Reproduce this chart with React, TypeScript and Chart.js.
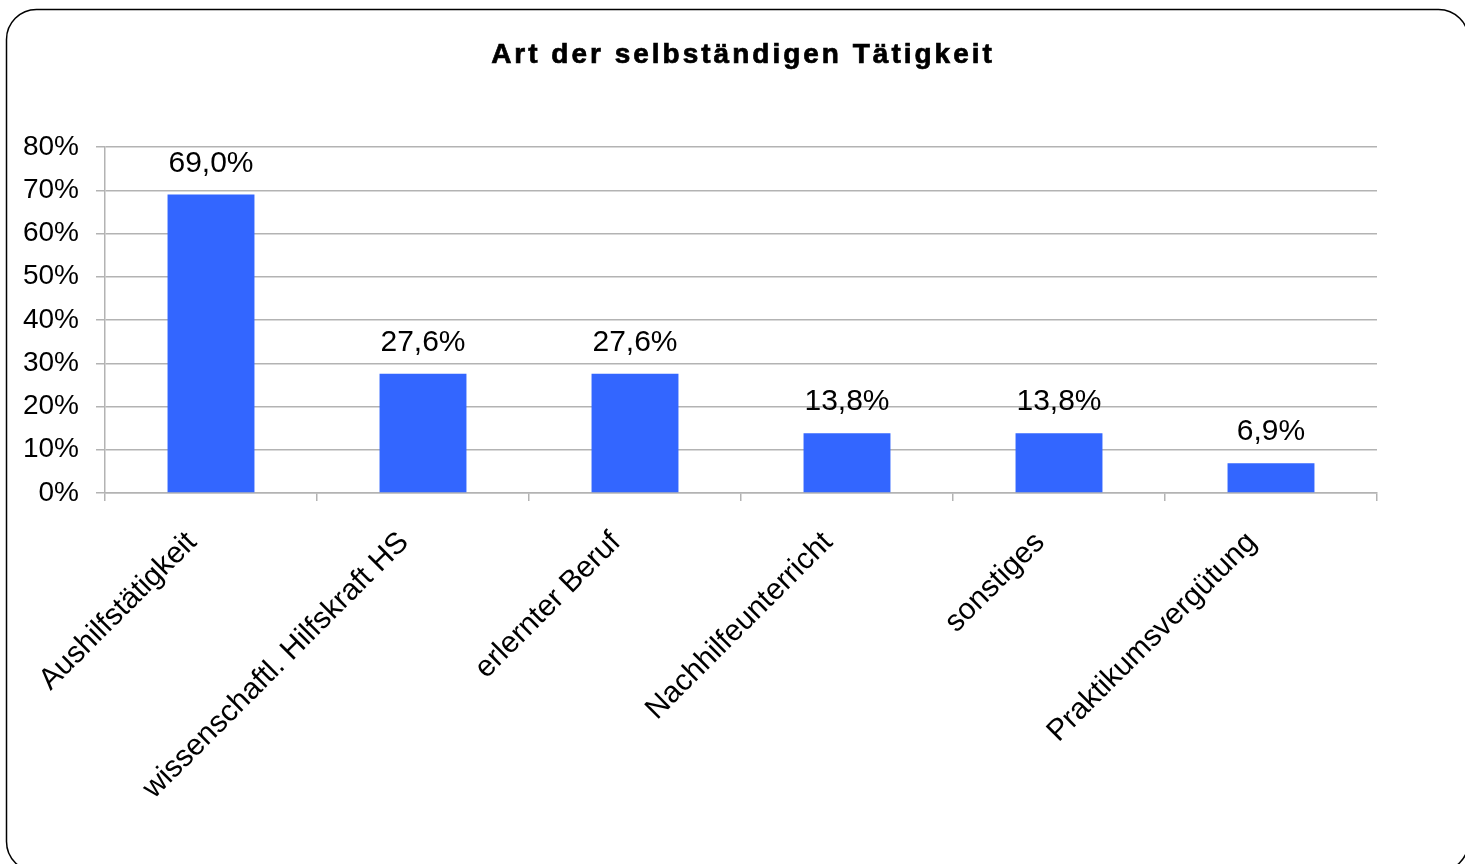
import React, { useEffect, useRef } from "react";
import { Chart, registerables } from "chart.js";

Chart.register(...registerables);

const TITLE = "Art der selbständigen Tätigkeit";
const categories = [
  "Aushilfstätigkeit",
  "wissenschaftl. Hilfskraft HS",
  "erlernter Beruf",
  "Nachhilfeunterricht",
  "sonstiges",
  "Praktikumsvergütung",
];
const values = [69.0, 27.6, 27.6, 13.8, 13.8, 6.9];
const yTicks = [0, 10, 20, 30, 40, 50, 60, 70, 80];

const FONT = "'Liberation Sans', Arial, sans-serif";
const GRID = "#b3b3b3";
const BAR = "#3366ff";

const framePlugin = {
  id: "frame",
  beforeDraw(chart: any) {
    const ctx = chart.ctx;
    ctx.save();
    ctx.fillStyle = "#ffffff";
    ctx.fillRect(0, 0, chart.width, chart.height);
    const x = 6.5, y = 9.5, w = 1462, h = 862, r = 30;
    ctx.beginPath();
    ctx.moveTo(x + r, y);
    ctx.lineTo(x + w - r, y);
    ctx.arcTo(x + w, y, x + w, y + r, r);
    ctx.lineTo(x + w, y + h - r);
    ctx.arcTo(x + w, y + h, x + w - r, y + h, r);
    ctx.lineTo(x + r, y + h);
    ctx.arcTo(x, y + h, x, y + h - r, r);
    ctx.lineTo(x, y + r);
    ctx.arcTo(x, y, x + r, y, r);
    ctx.closePath();
    ctx.lineWidth = 1.5;
    ctx.strokeStyle = "#000000";
    ctx.stroke();
    ctx.restore();
  },
  afterDraw(chart: any) {
    const ctx = chart.ctx;
    ctx.save();
    ctx.font = `bold 28px ${FONT}`;
    (ctx as any).letterSpacing = "3px";
    ctx.fillStyle = "#000000";
    ctx.strokeStyle = "#000000";
    ctx.lineWidth = 0.7;
    ctx.textAlign = "center";
    ctx.textBaseline = "alphabetic";
    ctx.fillText(TITLE, 743, 63);
    ctx.strokeText(TITLE, 743, 63);
    ctx.restore();
  },
};

const valueLabelPlugin = {
  id: "valueLabels",
  afterDatasetsDraw(chart: any) {
    const ctx = chart.ctx;
    const meta = chart.getDatasetMeta(0);
    ctx.save();
    ctx.font = `30px ${FONT}`;
    ctx.fillStyle = "#000000";
    ctx.textAlign = "center";
    ctx.textBaseline = "alphabetic";
    meta.data.forEach((bar: any, i: number) => {
      const txt = values[i].toFixed(1).replace(".", ",") + "%";
      ctx.fillText(txt, bar.x, bar.y - 23);
    });
    ctx.restore();
  },
};

export default function App() {
  const ref = useRef<HTMLCanvasElement | null>(null);
  useEffect(() => {
    if (!ref.current) return;
    const chart = new Chart(ref.current, {
      type: "bar",
      data: {
        labels: categories,
        datasets: [
          {
            data: values,
            backgroundColor: BAR,
            borderWidth: 0,
            barPercentage: 0.41,
            categoryPercentage: 1,
          },
        ],
      },
      options: {
        animation: false,
        responsive: false,
        devicePixelRatio: 1,
        layout: { padding: { top: 147, right: 88, bottom: 0, left: 0 } },
        plugins: {
          legend: { display: false },
          title: { display: false },
          tooltip: { enabled: false },
        },
        scales: {
          x: {
            offset: true,
            grid: {
              offset: true,
              drawOnChartArea: false,
              drawTicks: true,
              tickLength: 8,
              color: GRID,
              lineWidth: 1.5,
            },
            border: { color: GRID, width: 1.5 },
            ticks: {
              color: "#000000",
              font: { family: FONT, size: 30 },
              maxRotation: 45,
              minRotation: 45,
              autoSkip: false,
              padding: 24,
              labelOffset: -19,
            },
            afterFit: (scale: any) => {
              scale.height = 371;
            },
          },
          y: {
            min: 0,
            max: 80,
            afterBuildTicks: (scale: any) => {
              scale.ticks = yTicks.map((v) => ({ value: v }));
            },
            grid: {
              color: GRID,
              lineWidth: 1.5,
              tickLength: 9,
              drawTicks: true,
            },
            border: { color: GRID, width: 1.5 },
            ticks: {
              color: "#000000",
              font: { family: FONT, size: 28 },
              padding: 17,
              callback: (v: any) => `${v}%`,
            },
            afterFit: (scale: any) => {
              scale.width = 105;
            },
          },
        },
      },
      plugins: [framePlugin, valueLabelPlugin],
    });
    return () => chart.destroy();
  }, []);
  return (
    <div style={{ position: "absolute", left: 0, top: 0, width: 1465, height: 864 }}>
      <canvas ref={ref} width={1465} height={864} style={{ display: "block" }} />
    </div>
  );
}
